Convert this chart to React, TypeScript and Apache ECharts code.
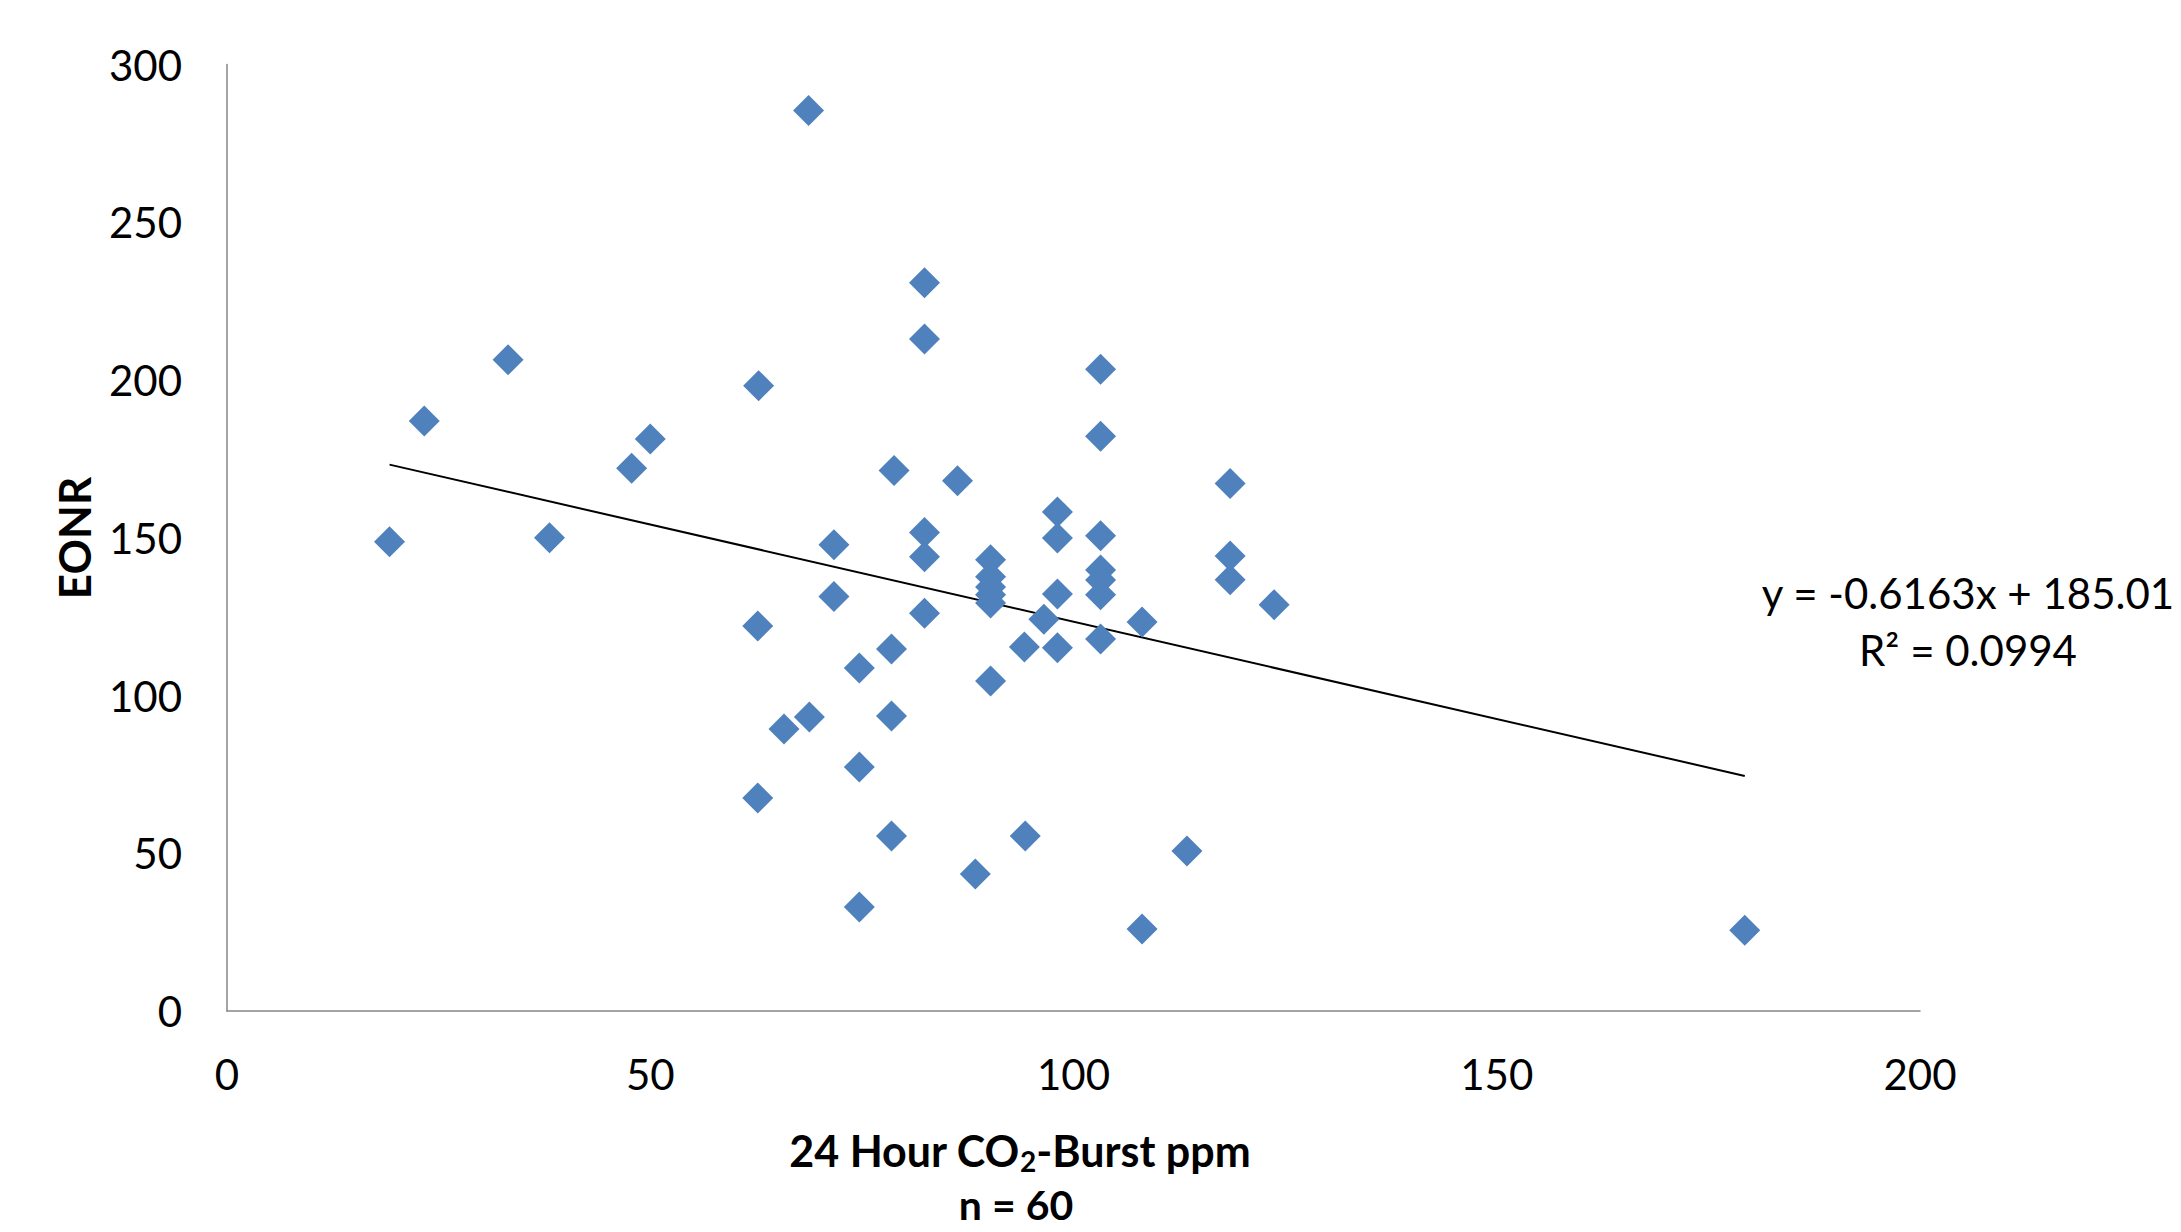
import React, { useEffect, useRef } from "react";
import * as echarts from "echarts";

const co2Burst = [
  19.2, 23.3, 33.2, 38.1, 47.8, 50.0, 62.8, 62.7, 62.7, 65.8, 68.7, 68.8,
  71.7, 71.7, 74.7, 74.7, 74.7, 78.8, 78.5, 78.5, 78.5, 82.4, 82.4, 82.4,
  82.4, 82.4, 86.3, 88.4, 90.2, 90.2, 90.2, 90.2, 90.2, 90.2, 94.2, 94.3,
  96.5, 98.1, 98.1, 98.1, 98.1, 103.2, 103.2, 103.2, 103.2, 103.2, 103.2,
  103.2, 108.1, 108.1, 113.4, 118.5, 118.5, 118.5, 123.7, 179.3,
];
const eonr = [
  148.7, 187.0, 206.4, 150.0, 172.0, 181.3, 198.2, 122.0, 67.5, 89.4, 285.4,
  93.2, 147.8, 131.4, 108.7, 77.3, 33.0, 171.3, 114.7, 93.5, 55.5, 230.8,
  213.0, 151.7, 144.0, 126.1, 168.1, 43.4, 143.0, 137.6, 134.4, 131.9, 129.3,
  104.6, 115.4, 55.5, 124.2, 158.2, 149.9, 132.2, 115.1, 203.4, 182.2, 150.6,
  139.8, 136.6, 131.9, 117.9, 123.3, 26.0, 50.7, 167.2, 144.2, 136.7, 128.8,
  25.6,
];
const xTicks = [0, 50, 100, 150, 200];
const yTicks = [0, 50, 100, 150, 200, 250, 300];
const trendSlope = -0.6163;
const trendIntercept = 185.01;
const equationLines = ["y = -0.6163x + 185.01", "R² = 0.0994"];
const xTitle = ["24 Hour CO", "2", "-Burst ppm"];
const xTitle2 = "n = 60";
const yTitle = "EONR";

const FONT = "Lato, 'Open Sans', sans-serif";

function measure(text: string, font: string): number {
  const ctx = document.createElement("canvas").getContext("2d");
  if (!ctx) return text.length * 20;
  ctx.font = font;
  return ctx.measureText(text).width;
}

export default function App() {
  const ref = useRef<HTMLDivElement>(null);
  useEffect(() => {
    if (!ref.current) return;
    const chart = echarts.init(ref.current, undefined, { renderer: "svg" });
    const points = co2Burst.map((x, i) => [x, eonr[i]]);
    const xmin = Math.min(...co2Burst);
    const xmax = Math.max(...co2Burst);
    const trend = [
      [xmin, trendSlope * xmin + trendIntercept],
      [xmax, trendSlope * xmax + trendIntercept],
    ];

    const mainFont = `bold 43px ${FONT}`;
    const subFont = `bold 28px ${FONT}`;
    const w0 = measure(xTitle[0], mainFont);
    const w1 = measure(xTitle[1], subFont);
    const w2 = measure(xTitle[2], mainFont);
    const titleCx = 1020;
    const titleY = 1150;
    const startX = titleCx - (w0 + w1 + w2) / 2;
    const mainStyle = {
      fontSize: 43,
      lineHeight: 43,
      fontWeight: "bold",
      fontFamily: FONT,
      fill: "#000000",
      align: "left",
      verticalAlign: "middle",
    };

    chart.setOption({
      animation: false,
      backgroundColor: "#ffffff",
      textStyle: { fontFamily: FONT },
      grid: { left: 227, right: 261, top: 64.5, bottom: 221, containLabel: false },
      xAxis: {
        type: "value",
        min: xTicks[0],
        max: xTicks[xTicks.length - 1],
        interval: xTicks[1] - xTicks[0],
        axisLine: { show: true, onZero: false, lineStyle: { color: "#868686", width: 1.5 } },
        axisTick: { show: false },
        splitLine: { show: false },
        axisLabel: {
          margin: 42,
          fontSize: 42,
          lineHeight: 42,
          color: "#000000",
          fontFamily: FONT,
        },
      },
      yAxis: {
        type: "value",
        min: yTicks[0],
        max: yTicks[yTicks.length - 1],
        interval: yTicks[1] - yTicks[0],
        axisLine: { show: true, onZero: false, lineStyle: { color: "#868686", width: 1.5 } },
        axisTick: { show: false },
        splitLine: { show: false },
        axisLabel: {
          margin: 45,
          fontSize: 42,
          color: "#000000",
          fontFamily: FONT,
        },
      },
      series: [
        {
          type: "scatter",
          data: points,
          symbol: "diamond",
          symbolSize: [31, 31],
          itemStyle: { color: "#4F81BD", opacity: 1 },
          z: 3,
        },
        {
          type: "line",
          data: trend,
          symbol: "none",
          lineStyle: { color: "#000000", width: 2 },
          z: 2,
        },
      ],
      graphic: [
        {
          type: "text",
          x: 1968,
          y: 593,
          style: {
            text: equationLines[0],
            fontSize: 42,
            fontFamily: FONT,
            fill: "#000000",
            align: "center",
            verticalAlign: "middle",
          },
        },
        {
          type: "text",
          x: 1968,
          y: 650,
          style: {
            text: equationLines[1],
            fontSize: 42,
            fontFamily: FONT,
            fill: "#000000",
            align: "center",
            verticalAlign: "middle",
          },
        },
        {
          type: "text",
          x: startX,
          y: titleY,
          style: { ...mainStyle, text: xTitle[0] },
        },
        {
          type: "text",
          x: startX + w0,
          y: titleY + 11,
          style: { ...mainStyle, fontSize: 28, lineHeight: 28, text: xTitle[1] },
        },
        {
          type: "text",
          x: startX + w0 + w1,
          y: titleY,
          style: { ...mainStyle, text: xTitle[2] },
        },
        {
          type: "text",
          x: 1016,
          y: 1204,
          style: {
            text: xTitle2,
            fontSize: 41,
            lineHeight: 40,
            fontWeight: "bold",
            fontFamily: FONT,
            fill: "#000000",
            align: "center",
            verticalAlign: "middle",
          },
        },
        {
          type: "text",
          x: 74,
          y: 538,
          rotation: Math.PI / 2,
          style: {
            text: yTitle,
            fontSize: 44,
            fontWeight: "bold",
            fontFamily: FONT,
            fill: "#000000",
            align: "center",
            verticalAlign: "middle",
          },
        },
      ],
    });
    return () => chart.dispose();
  }, []);
  return (
    <div
      ref={ref}
      style={{ position: "fixed", left: 0, top: 0, width: 2181, height: 1232, background: "#fff" }}
    />
  );
}
